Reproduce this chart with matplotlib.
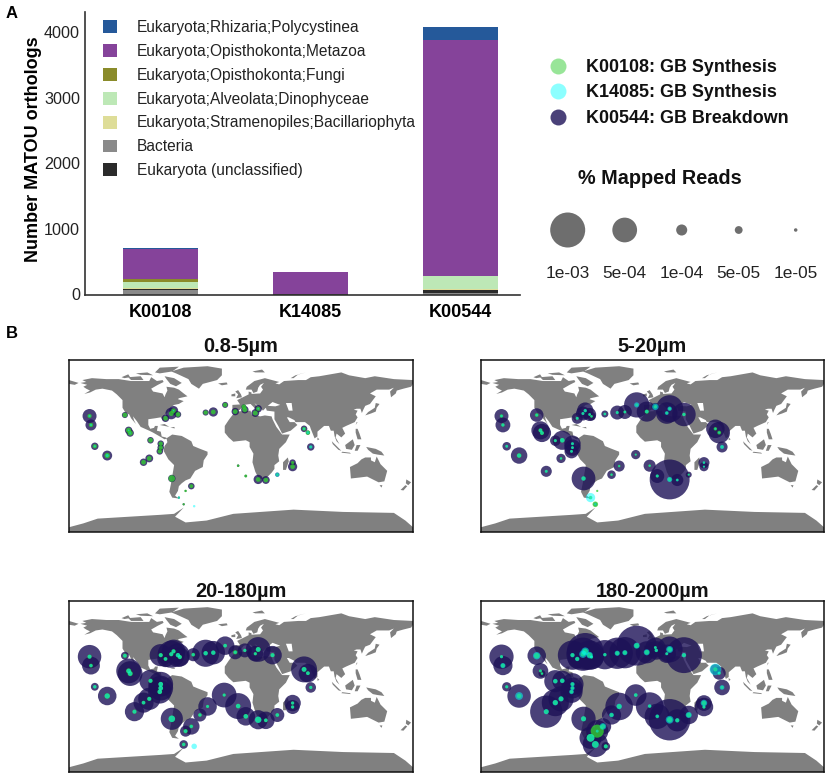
import numpy as np
import matplotlib
matplotlib.use('Agg')
import matplotlib.pyplot as plt
from matplotlib.lines import Line2D

plt.rcParams['font.family'] = ['Liberation Sans', 'DejaVu Sans']

W, H = 829, 777

# panel A
kos = ['K00108', 'K14085', 'K00544']
taxa = ['Bacteria', 'Eukaryota (unclassified)', 'Eukaryota;Stramenopiles;Bacillariophyta',
        'Eukaryota;Alveolata;Dinophyceae', 'Eukaryota;Opisthokonta;Fungi',
        'Eukaryota;Opisthokonta;Metazoa', 'Eukaryota;Rhizaria;Polycystinea']
taxa_colors = ['#8a8a8a', '#2b2b2b', '#dedd98', '#bde8b6', '#8a8b2a', '#85439a', '#25599a']
counts = [[70, 0, 30], [15, 15, 35], [10, 0, 15], [90, 0, 205], [45, 0, 5], [465, 335, 3600], [20, 0, 190]]
legend_order = [6, 5, 4, 3, 2, 0, 1]

# stations, lon / lat
st_lon = [-158.5, -157, -121.5, -117.6, -116, -102, -94.7, -84, -84, -85, -153, -140, -96, -102, -111.5, -72.4, -79,
          -70.6, -73, -66, -64, -84, -50, -37, -29, -16.6, -6, 3, 4, 18, 15, 33, 66, 70, 73, 54, 54, 38, -3, -17.6,
          -35, -43, 5, 18, 26, -52, -58, -65, -60, -49]
st_lat = [31.4, 22, 32.4, 16.4, 13.6, 5.6, 6, 2.4, -1.7, -5.6, -0.3, -10, -13, -17, -26.5, -34, 29,
          37, 34, 33, 31, 33, 33.5, 35, 35.6, 43, 36, 41, 38, 39, 34.5, 33, 18, 14, -1, -17.4, -21.6, -30, -20.6, -9,
          -21, -30, -31.4, -35, -35.6, -42, -47, -54, -61, -63]

# % mapped reads in units of 1e-5, one array per size fraction
k00544_a = [16, 10, 3, 4.5, 4.5, 0, 3.5, 3.5, 3.5, 3.5, 4.5, 8, 5, 4.5, 0, 4.5, 4.5,
            7, 11, 3.5, 0, 0, 0, 3, 7, 3, 4.5, 2, 4.5, 4.5, 5, 0, 3.5, 1.4, 4.5, 3.5, 7, 1.5, 0.5, 0,
            0, 0, 0.5, 7, 5, 3.5, 0.3, 0.4, 0.4, 0]
k00544_b = [16, 18, 15, 27, 27, 9, 30, 22, 22, 16, 6, 22, 7, 0, 10, 46, 10,
            22, 16, 14, 6, 0, 4, 16, 16, 52, 33, 5, 0, 60, 38, 45, 28, 38, 10, 10, 7, 3, 12, 7,
            10, 6, 16, 130, 12, 0, 0, 0, 1, 0]
k00544_c = [45, 26, 5, 50, 50, 0, 40, 50, 50, 45, 5, 28, 40, 33, 30, 40, 22,
            45, 60, 45, 30, 40, 14, 60, 45, 28, 16, 0, 16, 50, 20, 28, 55, 28, 9, 22, 16, 16, 55, 50,
            28, 14, 28, 30, 25, 22, 10, 0, 6, 0]
k00544_d = [48, 30, 28, 20, 4, 40, 33, 40, 35, 40, 7, 45, 52, 60, 85, 48, 30,
            110, 90, 70, 50, 70, 70, 80, 80, 130, 40, 33, 28, 55, 28, 105, 9, 14, 20, 20, 28, 28, 62, 38,
            62, 30, 52, 140, 40, 22, 40, 40, 52, 6]

k00108_a = [1.5, 1.5, 1.8, 2.2, 2.2, 0, 1.8, 1.5, 1.5, 1.5, 1.5, 2.5, 1.8, 1.8, 0, 3.5, 1.8,
            1.8, 2, 1.8, 0, 0, 0, 1.5, 1.8, 1.5, 1.8, 1.8, 2, 1.5, 2, 0, 1.2, 1.7, 0.5, 0.8, 1.8, 0.5, 0.5, 0,
            0, 0, 0.7, 1.8, 1.7, 1.2, 0.5, 0.3, 0.4, 0]
k00108_b = [1, 1, 1.2, 1.4, 1.4, 0.8, 1.8, 0.6, 0.6, 0.6, 0.6, 1.8, 0.6, 0, 0.7, 1.4, 0.7,
            0.7, 0.6, 0.6, 0.6, 0, 0.6, 0.7, 0.7, 0.6, 1.4, 1, 0, 0.7, 0.6, 1, 1, 1.2, 0.7, 0.4, 0.3, 0.4, 0.6, 0.4,
            0.6, 0.6, 0.7, 1.2, 0.4, 0, 0.4, 1, 2.5, 0]
k00108_c = [1.5, 1.2, 1.5, 2.2, 2.2, 0, 1.5, 1.8, 1.8, 1.8, 0.9, 2.5, 1.5, 1.2, 1.5, 3.5, 1.2,
            1.5, 1.5, 1.5, 1.5, 1.5, 1.2, 1.5, 1.5, 1.2, 1.5, 0, 0.9, 2, 0.9, 1.5, 2, 1.2, 0.9, 0.9, 0.9, 1.2, 1.8, 0.9,
            0.9, 1.2, 1.8, 3, 1.2, 1.2, 1.5, 0, 1.2, 0]
k00108_d = [0.8, 1.4, 2.5, 0.8, 0.6, 1.4, 1.4, 1, 0.8, 1, 0.8, 1.8, 1.8, 2, 1.8, 2, 1.2,
            2.5, 1.8, 2.2, 0.8, 1.2, 0.8, 1.4, 1.4, 2, 1.8, 0.6, 0.8, 2, 0.6, 1.2, 1.4, 0.8, 0.8, 1.8, 0.8, 1.8, 0.8, 1,
            1.8, 1.2, 0.8, 2.5, 1.2, 1.8, 14, 5, 3.5, 1.4]

k14085_a = [0.4, 0.4, 0, 0.2, 0.2, 0, 0, 0, 0, 0, 0.4, 0.8, 0, 0, 0, 0, 0,
            0.2, 0, 0, 0, 0, 0, 0, 0, 0, 0, 0, 0, 0.2, 0, 0, 0.5, 0.8, 1, 0, 0, 1.5, 0, 0,
            0, 0, 0, 0, 0, 0, 0, 0.5, 0, 0.5]
k14085_b = [0.6, 0.8, 0.6, 1, 1, 0.7, 1.6, 0.8, 0.7, 0.7, 0.7, 1.4, 0.4, 0, 0.7, 1.6, 0.7,
            1, 0.8, 0.6, 0.4, 0, 0.6, 0.8, 0.6, 2.2, 1, 3.5, 0, 1.6, 1.2, 0.8, 0.4, 0.4, 1.4, 0.6, 0.4, 0.3, 0.4, 0.3,
            0.3, 0.4, 0.8, 2.2, 0.7, 0, 0, 7, 0.6, 0]
k14085_c = [1.2, 0.8, 1, 1.6, 1.6, 0, 1.2, 1.8, 1.8, 1.6, 1, 2.2, 1.2, 1, 1.2, 3.5, 1,
            1.2, 1.2, 1.6, 1.2, 1.2, 0.8, 1.6, 1.6, 1, 0.8, 0, 0.8, 1.8, 0.7, 1.2, 1.8, 1.1, 0.8, 0.8, 0.8, 1, 1.6, 0.7,
            0.7, 0.8, 1.6, 3.5, 1, 0.8, 1, 0, 0.8, 2.5]
k14085_d = [0.8, 2.2, 4.5, 0.6, 0.4, 1.8, 1.8, 1.6, 1.6, 1.8, 0.8, 5, 2.2, 2.5, 2.2, 2.2, 1.6,
            5, 4.5, 3.5, 0.8, 1.6, 1, 2.2, 2.2, 3, 3, 0.7, 1, 4, 0.8, 1.6, 11, 0.8, 1.8, 3.5, 0.8, 3, 1.1, 1.1,
            2.5, 1.8, 1.2, 5, 1.6, 3.5, 0.7, 5, 4, 1.2]

fractions = ['0.8-5µm', '5-20µm', '20-180µm', '180-2000µm']
k00544_all = [k00544_a, k00544_b, k00544_c, k00544_d]
k00108_all = [k00108_a, k00108_b, k00108_c, k00108_d]
k14085_all = [k14085_a, k14085_b, k14085_c, k14085_d]

size_values = [100, 50, 10, 5, 1]
size_labels = ['1e-03', '5e-04', '1e-04', '5e-05', '1e-05']

# land outlines, lon / lat, traced by eye
land = [
    [(-168, 66), (-162, 67), (-166, 69), (-156, 71), (-141, 70), (-128, 70), (-115, 68), (-108, 68), (-96, 68), (-94, 72),
     (-88, 68), (-82, 69), (-81, 67), (-87, 64), (-94, 60), (-92, 57), (-82, 55), (-80, 51), (-79, 54), (-77, 58),
     (-78, 62), (-70, 61), (-65, 59), (-60, 55), (-56, 52), (-65, 50), (-66, 49), (-60, 47), (-65, 44), (-70, 43),
     (-74, 40), (-76, 36), (-81, 31), (-80, 26), (-82, 27), (-84, 30), (-90, 29), (-97, 28), (-97, 22), (-95, 18),
     (-91, 19), (-90, 21), (-87, 21), (-88, 16), (-84, 15), (-83, 10), (-79, 9), (-77, 8), (-80, 7), (-85, 10),
     (-92, 14), (-96, 16), (-105, 20), (-109, 26), (-113, 31), (-112, 27), (-110, 23), (-115, 29), (-117, 33), (-121, 35),
     (-124, 40), (-124, 48), (-130, 54), (-135, 58), (-145, 60), (-152, 59), (-158, 56), (-164, 54.5), (-158, 58),
     (-162, 60), (-165, 62), (-161, 64)],
    [(-180, 69), (-170, 66), (-174, 64), (-180, 65)],
    [(-73, 78), (-60, 82), (-35, 83.5), (-20, 81), (-20, 74), (-25, 69), (-40, 65), (-44, 60), (-52, 65), (-55, 70), (-68, 76)],
    [(-80, 73), (-70, 71), (-62, 66), (-68, 62.5), (-74, 65), (-78, 70)],
    [(-90, 77), (-85, 82), (-65, 83), (-72, 78), (-85, 76)],
    [(-118, 72), (-105, 73), (-102, 69), (-115, 69)],
    [(-125, 72), (-118, 75), (-116, 72), (-122, 71)],
    [(-110, 76), (-98, 77), (-92, 74), (-105, 74.5)],
    [(-24, 65.5), (-15, 66.5), (-14, 64.5), (-20, 63.5)],
    [(-78, 8), (-72, 12), (-62, 10.5), (-52, 5), (-50, 0), (-44, -2.5), (-35, -6), (-35, -9), (-39, -15), (-40, -22),
     (-48, -26), (-53, -34), (-58, -36), (-62, -39), (-65, -42), (-66, -47), (-69, -52), (-65, -55), (-72, -54), (-75, -48),
     (-73, -38), (-70, -20), (-76, -14), (-81, -5), (-80, 0), (-77, 4)],
    [(-6, 36), (10, 37), (11, 33), (20, 31), (25, 32), (32, 31), (33, 28), (37, 20), (43, 12), (51, 12), (47, 4), (40, -3),
     (39, -10), (40, -16), (35, -20), (35, -24), (32, -28), (26, -34), (19, -35), (15, -27), (12, -17), (13, -8), (9, -1),
     (9, 4), (5, 6), (-4, 5), (-8, 4.5), (-13, 9), (-17, 14), (-17, 21), (-13, 27), (-10, 31)],
    [(49, -12), (50, -16), (47, -25), (44, -25), (44, -17)],
    [(-9, 37), (-9, 43), (-1, 43.5), (-4, 48), (2, 51), (8, 54), (8, 57), (11, 56), (11, 54.5), (20, 55), (23, 59), (21, 62),
     (24, 66), (20, 64), (18, 61), (17, 57), (13, 55.5), (11, 59), (5, 59), (6, 62), (14, 68), (25, 71), (40, 67),
     (36, 65.5), (40, 64.5), (45, 68), (60, 69), (68, 69), (73, 72), (82, 73), (105, 77), (113, 74), (130, 71), (140, 73),
     (160, 70), (180, 69), (180, 65), (178, 62), (170, 60), (163, 58), (162, 55), (157, 51), (156, 57), (160, 61), (155, 59),
     (142, 59), (135, 55), (141, 52), (135, 44), (130, 42), (128, 38), (126.5, 34.5), (125, 39), (121, 39), (118, 38),
     (122, 37), (120, 33), (122, 30), (119, 25), (110, 21), (106, 19), (109, 13), (105, 9), (100, 13), (99, 9), (103, 2),
     (100, 5), (98, 10), (97, 16), (94, 16), (92, 21), (87, 21), (80, 15), (80, 10), (77, 8), (73, 18), (72, 21), (67, 25),
     (57, 25), (56, 27), (50, 30), (48, 30), (51, 25), (56, 25), (59, 22), (52, 16), (43, 13), (39, 21), (35, 28), (35, 36),
     (27, 37), (26, 40), (23, 37), (20, 40), (14, 45), (18, 40), (16, 38), (10, 44), (3, 43), (-1, 38), (-5, 36)],
    [(-5, 50), (1, 51), (0, 54), (-3, 58.5), (-6, 57), (-3, 54)],
    [(-10, 52), (-6, 52), (-6, 55), (-10, 54)],
    [(130, 32), (136, 34), (141, 36), (142, 40), (145, 44), (141, 45), (140, 40), (133, 35.5)],
    [(95, 5), (105, -5), (102, -4), (96, 2)],
    [(109, 1), (117, 7), (119, 1), (116, -4), (110, -3)],
    [(105, -7), (115, -8), (114, -7), (106, -6)],
    [(119, -5), (121, 1), (125, 1), (122, -5)],
    [(131, -1), (141, -3), (147, -6), (150, -10), (143, -9), (138, -8), (133, -4)],
    [(120, 18), (122, 18), (124, 13), (126, 7), (122, 7), (120, 14)],
    [(80, 9), (82, 7), (80, 6)],
    [(120, 22), (122, 25), (121, 25)],
    [(114, -22), (122, -18), (126, -14), (130, -12), (136, -12), (136, -15), (140, -17), (142, -11), (146, -19), (153, -26),
     (150, -37), (144, -38), (138, -35), (132, -32), (124, -33), (115, -34)],
    [(145, -41), (148, -41), (147, -43.5)],
    [(173, -35), (178, -38), (175, -41), (172.5, -39)],
    [(172, -41), (174, -42), (170, -46.5), (167, -46)],
    [(12, 78), (22, 80), (25, 77), (15, 77)],
    [(52, 71), (57, 74), (68, 77), (60, 75), (55, 71)],
    [(-85, 22), (-75, 20), (-80, 23)],
    [(-74, 19), (-69, 18.5), (-70, 20)],
    [(-180, -85), (-165, -81), (-150, -76), (-84, -72), (-70, -71), (-60, -64.5), (-69, -74), (-58, -80), (-36, -78),
     (-8, -71), (55, -66.6), (107, -69), (160, -70), (172, -78), (180, -85), (180, -90), (-180, -90)],
]
inland_seas = [
    [(28, 42), (33, 46), (41, 43), (36, 41.5)],
    [(47, 45), (53, 45), (54, 37), (50, 37)],
]


def px_axes(left, top, right, bottom):
    return fig.add_axes([left / W, 1 - bottom / H, (right - left) / W, (bottom - top) / H])


def mapped_size(v):
    # bubble area goes with the value, 1e-03 is 17.5 px radius
    r_px = 17.5 * np.sqrt(np.asarray(v, dtype=float) / 100)
    return (2 * r_px * 72 / 100) ** 2


fig = plt.figure(figsize=(W / 100, H / 100), dpi=100)

# --- A: stacked bars
ax = px_axes(85.5, 12, 520, 294.5)
x = np.arange(len(kos))
bottom = np.zeros(len(kos))
bars = []
for vals, name, col in zip(counts, taxa, taxa_colors):
    bars.append(ax.bar(x, vals, 0.5, bottom=bottom, color=col, label=name))
    bottom += np.array(vals)
ax.set_xlim(-0.5, 2.397)
ax.set_ylim(0, 4312)
ax.set_xticks(x, kos, fontsize=13, fontweight='bold')
ax.set_yticks([0, 1000, 2000, 3000, 4000])
ax.tick_params(axis='y', length=0, labelsize=11.6, pad=4, colors='#222222')
ax.tick_params(axis='x', length=0, pad=7)
ax.set_ylabel('Number MATOU orthologs', fontsize=13, fontweight='bold', labelpad=1.5, y=0.515)
for s in ['top', 'right']:
    ax.spines[s].set_visible(False)
for s in ['left', 'bottom']:
    ax.spines[s].set_linewidth(1.2)
    ax.spines[s].set_color('#333333')
fig.legend([bars[i] for i in legend_order], [taxa[i] for i in legend_order], loc='upper left',
           bbox_to_anchor=(103 / W, 1 - 20 / H), frameon=False, fontsize=11.2, borderpad=0, borderaxespad=0,
           handlelength=0.9, handleheight=0.9, handletextpad=1.28, labelspacing=0.57, labelcolor='#222222')

# --- legends on the right
handles = [Line2D([], [], ls='', marker='o', ms=11.5, mfc=c, mec='none', alpha=a)
           for c, a in [('#32cd32', 0.5), ('#00ffff', 0.45), ('#1d1257', 0.8)]]
fig.legend(handles, ['K00108: GB Synthesis', 'K14085: GB Synthesis', 'K00544: GB Breakdown'], loc='upper left',
           bbox_to_anchor=(546 / W, 1 - 59 / H), frameon=False, borderpad=0, borderaxespad=0, handlelength=1.3,
           handletextpad=0.92, labelspacing=0.47, prop={'size': 12.9, 'weight': 'bold'}, labelcolor='#111111')

ax_size = px_axes(539.2, 205, 824.2, 255)
ax_size.scatter(np.arange(5), np.zeros(5), s=mapped_size(size_values), color='#555555', alpha=0.85, lw=0)
ax_size.set_xlim(-0.5, 4.5)
ax_size.set_ylim(-1, 1)
ax_size.set_xticks(np.arange(5), size_labels, fontsize=12.4, color='#222222')
ax_size.set_yticks([])
ax_size.tick_params(length=0, pad=8)
for s in ax_size.spines.values():
    s.set_visible(False)
fig.text(660 / W, 1 - 179 / H, '% Mapped Reads', fontsize=14.3, fontweight='bold', ha='center', va='center', color='#111111')

# --- B: maps
boxes = [(69, 360, 413, 532), (481, 360, 824, 532), (69, 601, 413, 772), (481, 601, 824, 772)]
title_pads = [6, 6, 3, 3]
for box, name, pad, dark, green, cyan in zip(boxes, fractions, title_pads, k00544_all, k00108_all, k14085_all):
    m = px_axes(*box)
    for poly in land:
        xy = np.array(poly)
        m.fill(xy[:, 0], xy[:, 1], color='#808080', lw=0, zorder=1)
    for poly in inland_seas:
        xy = np.array(poly)
        m.fill(xy[:, 0], xy[:, 1], color='white', lw=0, zorder=1.5)
    m.scatter(st_lon, st_lat, s=mapped_size(dark), color='#1d1257', alpha=0.8, lw=0, zorder=2)
    m.scatter(st_lon, st_lat, s=mapped_size(green), color='#32cd32', alpha=0.8, lw=0, zorder=3)
    m.scatter(st_lon, st_lat, s=mapped_size(cyan), color='#00ffff', alpha=0.5, lw=0, zorder=4)
    m.set_xlim(-180, 180)
    m.set_ylim(-90, 90)
    m.set_xticks([])
    m.set_yticks([])
    for s in m.spines.values():
        s.set_linewidth(1.1)
        s.set_color('#111111')
    m.set_title(name, fontsize=14.4, fontweight='bold', pad=pad, color='#111111')

fig.text(6 / W, 1 - 13 / H, 'A', fontsize=12, fontweight='bold', va='center')
fig.text(6 / W, 1 - 334 / H, 'B', fontsize=12, fontweight='bold', va='center')

fig.savefig('out.png', dpi=100)
